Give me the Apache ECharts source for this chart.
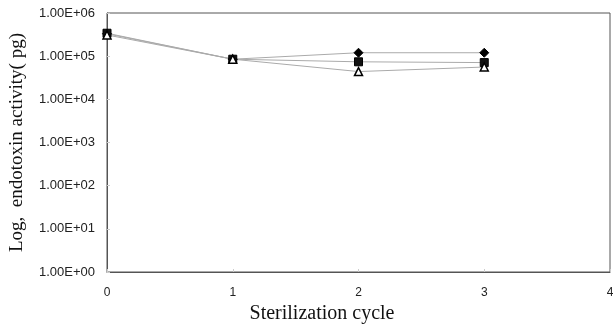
<!DOCTYPE html>
<html>
<head>
<meta charset="utf-8">
<script src="https://cdn.jsdelivr.net/npm/echarts@6/dist/echarts.min.js"></script>
<style>
  html, body { margin: 0; padding: 0; background: #fff; }
  #chart { width: 613px; height: 327px; }
</style>
</head>
<body>
<div id="chart"></div>
<script>
const cycles = [0, 1, 2, 3];
const diamondValues = [330000, 85000, 120000, 120000];
const squareValues = [340000, 85000, 74000, 71000];
const triangleValues = [310000, 85000, 44000, 56000];
const yTicks = [1, 10, 100, 1000, 10000, 100000, 1000000];

function sciLabel(v) {
  const exp = Math.round(Math.log10(v));
  const mant = v / Math.pow(10, exp);
  return mant.toFixed(2) + 'E+' + String(exp).padStart(2, '0');
}

function pairs(vals) {
  return cycles.map((c, i) => [c, vals[i]]);
}

let myChart = echarts.init(document.getElementById('chart'));
let option = {
  animation: false,
  grid: {
    left: 107, right: 3, top: 13, bottom: 55,
    outerBoundsMode: 'none',
    containLabel: false,
    show: true, borderColor: '#555', borderWidth: 1
  },
  xAxis: {
    type: 'value',
    min: 0, max: 4, interval: 1,
    name: 'Sterilization cycle',
    nameLocation: 'middle',
    nameGap: 30,
    nameTextStyle: { fontFamily: 'Liberation Serif', fontSize: 20, color: '#111', padding: [0, 73, 0, 0] },
    axisLine: { lineStyle: { color: '#555' } },
    axisTick: { show: true, inside: true, length: 3, lineStyle: { color: '#ccc' } },
    splitLine: { show: false },
    axisLabel: { fontFamily: 'Liberation Sans', fontSize: 12, color: '#222', margin: 15 }
  },
  yAxis: {
    type: 'log',
    logBase: 10,
    min: yTicks[0],
    max: yTicks[yTicks.length - 1],
    name: 'Log,  endotoxin activity( pg)',
    nameLocation: 'middle',
    nameRotate: 90,
    nameGap: 80,
    nameTextStyle: { fontFamily: 'Liberation Serif', fontSize: 19, color: '#111' },
    axisLine: { show: true, lineStyle: { color: '#555' } },
    axisTick: { show: true, inside: true, length: 3, lineStyle: { color: '#ccc' } },
    splitLine: { show: false },
    minorTick: { show: false },
    axisLabel: {
      fontFamily: 'Liberation Sans', fontSize: 13, color: '#222', margin: 12,
      formatter: v => sciLabel(v)
    }
  },
  series: [
    {
      name: 'diamond', type: 'line', data: pairs(diamondValues),
      symbol: 'diamond', symbolSize: 9,
      lineStyle: { color: '#aaa', width: 1 },
      itemStyle: { color: '#000', borderColor: '#000' }
    },
    {
      name: 'square', type: 'line', data: pairs(squareValues),
      symbol: 'rect', symbolSize: 8,
      lineStyle: { color: '#aaa', width: 1 },
      itemStyle: { color: '#111', borderColor: '#000' }
    },
    {
      name: 'triangle', type: 'line', data: pairs(triangleValues),
      symbol: 'triangle', symbolSize: 8,
      lineStyle: { color: '#aaa', width: 1 },
      itemStyle: { color: '#fff', borderColor: '#000', borderWidth: 1.5 }
    }
  ]
};
option && myChart.setOption(option);
</script>
</body>
</html>
